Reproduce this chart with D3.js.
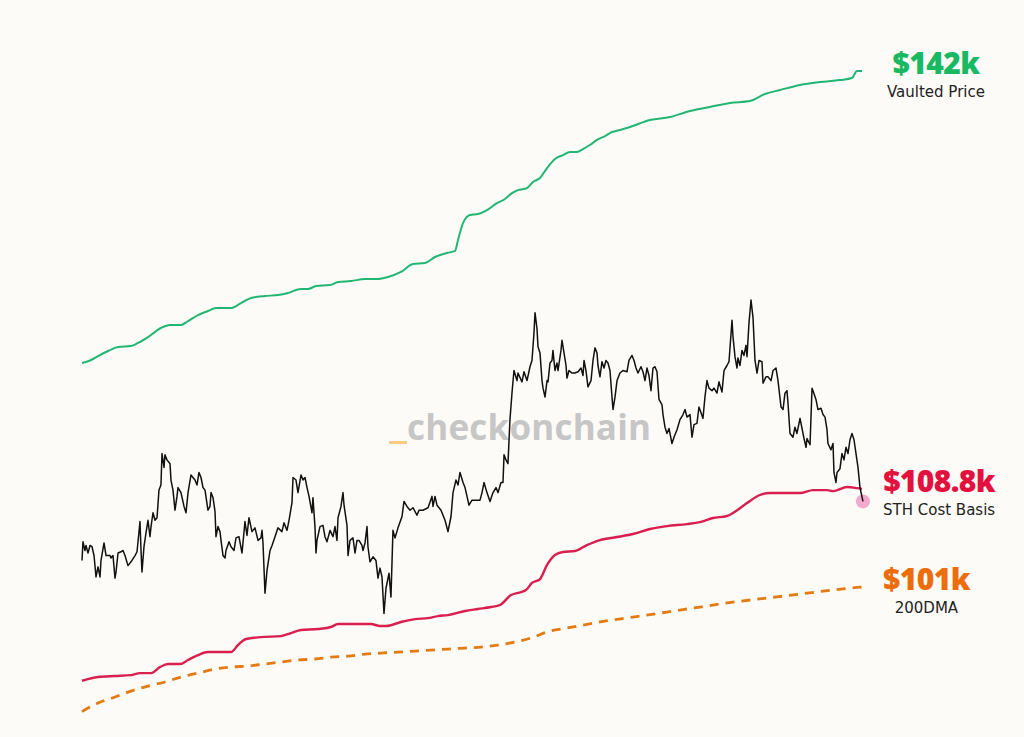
<!DOCTYPE html>
<html><head><meta charset="utf-8">
<script src="https://cdn.jsdelivr.net/npm/d3@7"></script>
<style>
html,body{margin:0;padding:0;background:#fdfbf7;}
svg{display:block;}
</style></head>
<body>
<svg id="chart" width="1024" height="737"></svg>
<script>
// ---- data (values in $k, x as days since start date) ----
const startDate = "2025-05-10";
const endDay = 113;

const price = [
[0,103.1],[0.14,104.6],[0.43,103.9],[0.58,104.3],[0.87,103.7],[1.16,104.3],[1.45,104.2],[1.74,103.5],[2.03,101.8],[2.32,102.6],[2.61,101.8],[2.75,103.1],[3.19,104.5],[3.48,103.5],[4.06,103.5],[4.20,103.3],[4.49,103.5],[4.78,101.7],[4.93,102.2],[5.22,103.7],[5.65,103.8],[5.94,103.9],[6.23,103.5],[6.66,102.7],[7.10,103.0],[7.68,103.5],[7.97,103.8],[8.40,106.2],[8.55,103.9],[8.69,102.2],[8.98,104.2],[9.27,105.3],[9.56,106.3],[9.85,105.0],[10.00,105.8],[10.29,106.9],[10.58,106.3],[10.87,106.5],[11.15,108.7],[11.44,109.1],[11.59,111.6],[11.88,110.5],[12.02,111.5],[12.31,111.1],[12.75,110.8],[12.89,109.5],[13.18,108.7],[13.47,107.1],[13.76,108.2],[13.91,108.9],[14.34,108.5],[14.78,107.4],[15.07,106.9],[15.36,108.5],[15.79,109.9],[16.08,109.7],[16.37,109.5],[16.66,109.1],[16.95,110.1],[17.24,109.7],[17.53,108.9],[17.82,108.7],[18.25,107.1],[18.54,107.4],[18.69,108.5],[18.98,108.1],[19.27,107.0],[19.41,105.0],[19.70,105.8],[19.99,105.4],[20.14,104.7],[20.43,103.5],[20.72,103.3],[20.86,103.9],[21.30,104.6],[21.59,104.2],[22.02,103.9],[22.31,104.9],[22.74,105.0],[23.18,103.7],[23.61,106.2],[23.90,105.1],[24.19,106.5],[24.63,105.4],[25.06,105.7],[25.50,104.7],[25.93,104.9],[26.08,105.5],[26.22,104.5],[26.51,100.5],[26.80,102.3],[27.24,103.9],[27.53,104.3],[27.96,105.0],[28.39,105.7],[28.97,105.4],[29.26,106.1],[29.70,105.5],[29.99,106.3],[30.42,107.7],[30.57,109.7],[31.00,109.5],[31.29,108.5],[31.73,109.9],[32.02,109.5],[32.31,109.7],[32.60,108.9],[32.89,108.2],[33.32,106.9],[33.46,108.1],[33.75,105.8],[33.90,103.7],[34.04,104.7],[34.48,105.8],[34.91,105.9],[35.20,105.0],[35.49,104.6],[35.93,105.5],[36.36,105.0],[36.65,105.8],[36.94,104.7],[37.09,106.5],[37.52,107.4],[37.81,108.5],[37.96,107.5],[38.39,105.9],[38.54,103.5],[38.83,104.7],[39.26,104.9],[39.55,103.7],[39.84,104.7],[40.13,104.7],[40.56,104.3],[40.71,103.9],[41.00,104.5],[41.29,105.8],[41.43,104.2],[41.72,103.0],[42.16,103.4],[42.59,103.1],[42.88,101.7],[43.17,102.5],[43.46,101.8],[43.75,98.9],[44.04,100.9],[44.48,102.1],[44.76,100.2],[45.05,105.5],[45.34,104.9],[45.78,105.7],[46.36,106.6],[46.65,107.8],[47.08,107.4],[47.52,107.1],[47.95,107.3],[48.53,106.7],[48.82,107.1],[49.40,107.1],[50.13,107.3],[50.70,108.2],[50.85,107.4],[51.14,108.2],[51.43,107.5],[52.01,107.1],[52.59,106.3],[53.02,105.4],[53.46,106.6],[53.75,108.5],[54.18,109.5],[54.47,109.1],[54.76,110.1],[55.20,109.3],[55.49,108.9],[55.78,108.2],[56.06,107.5],[56.50,107.9],[57.22,107.9],[57.66,107.9],[57.95,108.5],[58.24,109.3],[58.67,108.5],[59.11,107.8],[59.54,108.5],[59.98,108.9],[60.27,108.5],[60.70,109.3],[60.99,109.3],[61.14,111.5],[61.42,111.1],[61.71,110.8],[62.00,114.3],[62.29,116.4],[62.58,118.2],[63.02,117.4],[63.16,118.0],[63.74,117.3],[64.03,118.1],[64.47,117.4],[64.90,118.5],[65.19,119.0],[65.48,121.2],[65.63,122.8],[65.92,121.5],[66.06,120.1],[66.35,119.6],[66.64,117.4],[66.79,116.8],[67.08,116.1],[67.37,117.4],[67.51,117.3],[67.80,118.8],[68.09,119.0],[68.23,119.8],[68.52,118.2],[68.81,118.8],[68.96,118.2],[69.39,119.8],[69.54,120.6],[69.83,119.6],[70.12,118.6],[70.26,117.6],[70.55,118.2],[70.99,118.0],[71.42,118.0],[71.86,118.1],[72.29,118.4],[72.58,117.8],[72.73,119.0],[73.01,118.2],[73.30,116.9],[73.74,117.4],[74.03,119.0],[74.32,120.0],[74.61,119.6],[74.75,118.6],[75.04,117.7],[75.33,118.9],[75.62,118.4],[75.91,119.0],[76.20,118.8],[76.49,118.2],[76.78,116.1],[76.93,115.1],[77.22,116.1],[77.51,117.4],[77.94,118.0],[78.37,118.2],[78.95,118.1],[79.24,119.0],[79.68,119.4],[79.97,119.0],[80.26,118.4],[80.55,118.0],[80.98,118.5],[81.27,118.1],[81.56,117.4],[81.85,118.4],[82.14,117.8],[82.43,116.6],[82.72,118.4],[83.01,118.5],[83.30,118.1],[83.59,115.9],[84.02,115.5],[84.17,114.7],[84.46,113.7],[84.75,113.2],[85.04,113.6],[85.47,112.4],[85.76,112.9],[86.20,113.5],[86.63,114.3],[87.07,114.7],[87.36,115.1],[87.65,114.5],[88.08,114.7],[88.37,112.9],[88.66,113.9],[89.09,114.0],[89.38,115.3],[89.96,114.4],[90.25,116.1],[90.54,117.4],[90.83,116.8],[91.27,116.6],[91.56,116.8],[91.99,116.4],[92.28,117.3],[92.72,116.5],[93.01,118.2],[93.44,118.6],[93.73,118.9],[94.17,122.2],[94.31,120.9],[94.60,119.3],[94.89,118.4],[95.03,119.2],[95.32,118.6],[95.61,119.8],[95.90,119.4],[96.19,120.2],[96.34,119.3],[96.63,122.0],[96.92,123.8],[97.21,122.4],[97.50,119.0],[97.79,118.0],[98.08,119.0],[98.51,118.9],[98.66,117.2],[99.09,117.7],[99.38,117.7],[99.82,117.4],[100.11,118.2],[100.54,118.4],[100.83,117.4],[101.27,115.3],[101.56,115.1],[101.84,116.4],[102.13,116.6],[102.28,115.6],[102.57,113.2],[103.00,112.9],[103.29,113.7],[103.58,113.2],[104.02,114.4],[104.31,113.6],[104.60,112.8],[104.89,112.1],[105.03,112.8],[105.47,112.3],[105.76,116.8],[105.90,116.6],[106.33,115.9],[106.62,115.1],[107.06,115.2],[107.35,114.7],[107.64,114.5],[107.93,113.5],[108.07,112.4],[108.51,111.9],[108.80,112.4],[108.94,110.1],[109.23,109.3],[109.38,110.1],[109.81,110.4],[110.10,111.6],[110.39,111.1],[110.68,112.1],[110.97,111.6],[111.26,112.7],[111.55,113.2],[111.84,112.7],[112.13,111.6],[112.42,110.5],[112.71,108.9],[113.14,107.8]
];

const vaultedPrice = [
[0,118.8],[1.16,119.0],[2.32,119.35],[3.77,119.75],[5.22,120.07],[7.10,120.15],[8.11,120.39],[9.56,120.86],[11.44,121.58],[12.75,121.82],[14.34,121.82],[15.36,122.13],[16.81,122.61],[18.25,122.93],[19.41,123.17],[21.59,123.17],[23.03,123.56],[24.48,123.96],[26.51,124.12],[28.39,124.2],[29.84,124.36],[31.73,124.68],[32.74,124.68],[33.90,124.91],[35.93,124.99],[37.09,125.23],[38.97,125.31],[41.00,125.47],[42.88,125.47],[44.33,125.63],[46.21,126.03],[47.95,126.66],[49.69,126.74],[51.14,127.22],[52.88,127.54],[54.04,127.7],[54.47,128.57],[55.20,129.92],[56.21,130.56],[57.37,130.64],[58.67,130.95],[60.12,131.51],[61.28,131.83],[62.29,132.3],[63.16,132.54],[64.47,132.7],[65.34,133.18],[66.35,133.5],[67.37,134.29],[68.52,135.01],[69.68,135.32],[70.70,135.56],[71.71,135.56],[72.58,135.8],[73.59,136.12],[74.61,136.52],[75.77,136.83],[76.78,137.15],[77.94,137.31],[79.39,137.55],[82.29,138.1],[85.18,138.34],[88.08,138.82],[90.98,139.14],[93.88,139.46],[96.77,139.61],[98.95,140.17],[101.12,140.49],[104.02,140.89],[106.91,141.12],[109.81,141.28],[111.55,141.44],[112.27,142.0],[113,142.0]
];

const sthCostBasis = [
[0,93.55],[2.32,93.85],[4.78,93.93],[7.10,94.0],[8.40,94.16],[10.00,94.16],[11.30,94.64],[12.46,94.88],[14.20,94.88],[15.36,95.2],[16.81,95.59],[18.25,95.83],[21.59,95.83],[22.60,96.39],[23.76,96.87],[25.93,97.02],[28.83,97.1],[30.28,97.34],[31.73,97.58],[34.19,97.66],[36.07,97.82],[37.09,98.06],[41.87,98.06],[43.17,97.9],[44.04,97.9],[46.21,98.22],[48.24,98.45],[50.13,98.53],[51.57,98.69],[53.02,98.77],[55.49,99.09],[57.37,99.25],[59.25,99.41],[60.56,99.57],[62.15,100.36],[63.60,100.6],[64.32,100.76],[65.19,101.32],[66.35,101.63],[67.37,102.75],[68.52,103.54],[69.68,103.78],[71.42,103.86],[73.16,104.33],[75.04,104.73],[77.51,104.97],[79.82,105.21],[82.29,105.61],[84.75,105.84],[87.65,106.0],[89.53,106.16],[91.41,106.48],[93.44,106.64],[94.31,106.88],[96.34,107.67],[98.22,108.31],[99.67,108.47],[104.02,108.47],[105.90,108.7],[107.93,108.7],[108.80,108.62],[110.83,108.94],[112.27,108.86],[113,108.8]
];

const dma200 = [
[0,91.1],[2.32,91.78],[4.78,92.26],[7.10,92.73],[9.56,93.13],[12.02,93.45],[14.34,93.85],[16.81,94.16],[19.27,94.48],[21.59,94.64],[24.05,94.72],[26.51,94.88],[28.83,95.04],[31.29,95.2],[33.75,95.28],[36.07,95.43],[38.54,95.51],[41.00,95.67],[43.32,95.75],[45.78,95.83],[48.24,95.91],[50.56,95.99],[53.02,96.07],[55.49,96.15],[57.80,96.23],[60.27,96.39],[62.73,96.63],[65.05,96.95],[67.80,97.5],[70.26,97.74],[75.04,98.22],[79.82,98.61],[84.75,99.01],[89.53,99.41],[94.31,99.8],[99.24,100.12],[104.02,100.44],[108.80,100.76],[113,101.0]
];

const labelValues = ["$142k", "$108.8k", "$101k"];
const labelNames  = ["Vaulted Price", "STH Cost Basis", "200DMA"];
const labelLevels = [142, 108.8, 101];
const watermark = "checkonchain";

// ---- drawing ----
const svg = d3.select("#chart");
const W = 1024, H = 737;
svg.append("rect").attr("width", W).attr("height", H).attr("fill", "#fdfbf7");

const t0 = new Date(startDate + "T00:00:00Z").getTime();
const toDate = d => new Date(t0 + d * 864e5);

const x = d3.scaleTime().domain([toDate(0), toDate(endDay)]).range([82, 862]);
const y = d3.scaleLinear().domain([101, 142]).range([587, 71]);

// watermark
const wm = svg.append("g").attr("class", "watermark");
wm.append("text")
  .attr("x", 407).attr("y", 440)
  .attr("font-family", "'Open Sans', sans-serif")
  .attr("font-weight", 700)
  .attr("font-size", 35)
  .attr("fill", "#c6c6c6")
  .attr("letter-spacing", 0.2)
  .text(watermark);
wm.append("rect")
  .attr("x", 389).attr("y", 441).attr("width", 18).attr("height", 3)
  .attr("fill", "#f6cc85");

const line = d3.line().x(d => x(toDate(d[0]))).y(d => y(d[1])).curve(d3.curveLinear);
const smooth = d3.line().x(d => x(toDate(d[0]))).y(d => y(d[1])).curve(d3.curveMonotoneX);

svg.append("path").datum(vaultedPrice)
  .attr("d", smooth).attr("fill", "none")
  .attr("stroke", "#22b574").attr("stroke-width", 2).attr("stroke-linejoin", "round");

svg.append("path").datum(dma200)
  .attr("d", smooth).attr("fill", "none")
  .attr("stroke", "#e37a12").attr("stroke-width", 2.8)
  .attr("stroke-dasharray", "9,7");

svg.append("path").datum(sthCostBasis)
  .attr("d", smooth).attr("fill", "none")
  .attr("stroke", "#d81f4f").attr("stroke-width", 2.4).attr("stroke-linejoin", "round");

// last price marker
const last = price[price.length - 1];
svg.append("circle")
  .attr("cx", x(toDate(last[0]))).attr("cy", y(last[1])).attr("r", 7)
  .attr("fill", "#ee9ac4").attr("opacity", 0.85);

svg.append("path").datum(price)
  .attr("d", line).attr("fill", "none")
  .attr("stroke", "#111").attr("stroke-width", 1.5).attr("stroke-linejoin", "round");

// labels
const labelColors = ["#19b862", "#e3113e", "#ec6d0c"];
const labelLeft = 883;
labelValues.forEach((v, i) => {
  const g = svg.append("g");
  const base = y(labelLevels[i]);
  const tv = g.append("text")
    .attr("y", base + 3)
    .attr("font-family", "'Open Sans', sans-serif")
    .attr("font-weight", 800)
    .attr("font-size", 30)
    .attr("letter-spacing", -0.6)
    .attr("fill", labelColors[i])
    .text(v);
  const tn = g.append("text")
    .attr("y", base + 26)
    .attr("font-family", "'DejaVu Sans', sans-serif")
    .attr("font-size", 15)
    .attr("fill", "#222")
    .text(labelNames[i]);
  const wv = tv.node().getComputedTextLength();
  const wn = tn.node().getComputedTextLength();
  const wMax = Math.max(wv, wn);
  const cx = labelLeft + wMax / 2 + (i === 0 ? 4 : 0);
  tv.attr("x", cx).attr("text-anchor", "middle");
  tn.attr("x", cx).attr("text-anchor", "middle");
});
</script>
</body></html>
